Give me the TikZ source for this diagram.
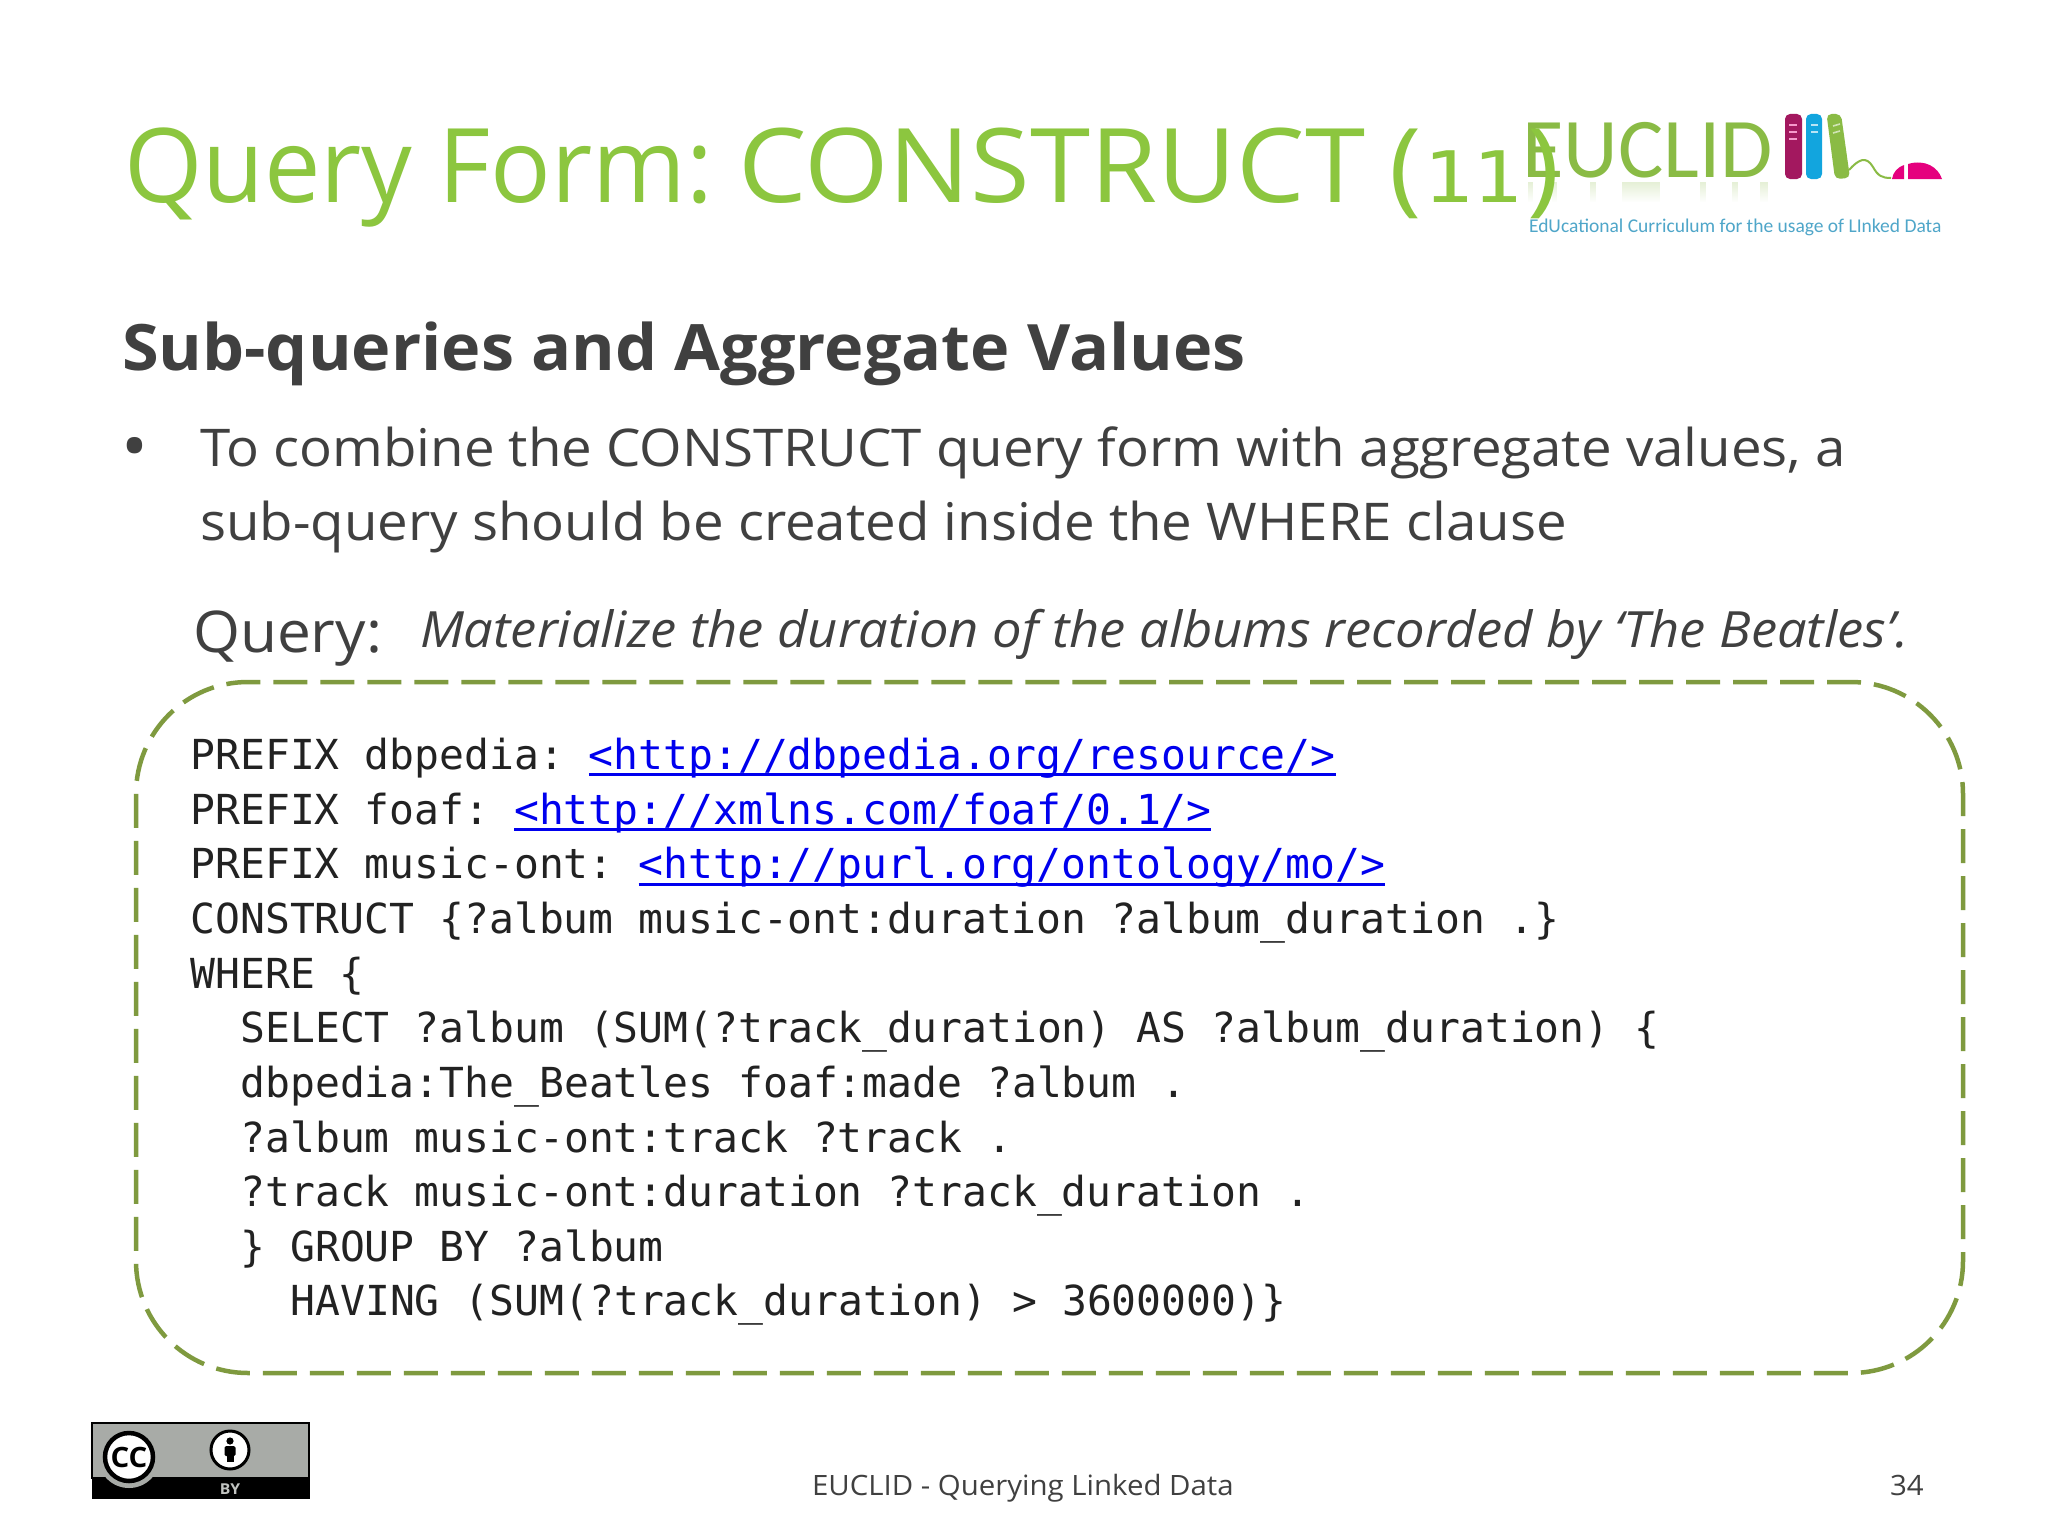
\documentclass[tikz,border=0pt]{standalone}
\usepackage{fontspec}
\setmainfont[FakeStretch=1.05]{Open Sans}
\newfontfamily\codefont{DejaVu Sans Mono}
\newfontfamily\titlefonta[FakeStretch=0.978]{Open Sans}
\newfontfamily\titlefontb[FakeStretch=1.054]{Open Sans}
\newfontfamily\titledigits[FakeStretch=1.16]{DejaVu Sans Mono}
\newfontfamily\headfont[FakeStretch=1.04]{Open Sans}
\newfontfamily\logofont{Carlito}
\usetikzlibrary{fadings}
\definecolor{titlegreen}{HTML}{8CC63F}
\definecolor{bodygray}{HTML}{404040}
\definecolor{boxgreen}{HTML}{7F9A3F}
\definecolor{codeink}{HTML}{222222}
\definecolor{linkblue}{HTML}{0000EE}
\definecolor{logogreen}{HTML}{8ABB45}
\definecolor{logomag}{HTML}{A3185F}
\definecolor{logoblue}{HTML}{12A5DE}
\definecolor{logopink}{HTML}{E5007E}
\definecolor{logotext}{HTML}{4FA6C9}
\definecolor{badgegray}{HTML}{A8ABA7}
\newsavebox{\linkbox}
\newcommand{\codelink}[1]{\sbox{\linkbox}{#1}{\color{linkblue}\rlap{\raisebox{-7pt}{\rule{\wd\linkbox}{3pt}}}#1}}
\frenchspacing
\tikzset{
  txt/.style={anchor=base west,inner sep=0pt,outer sep=0pt},
  titletxt/.style={txt,text=titlegreen,font=\fontsize{103}{103}\selectfont},
  headtxt/.style={txt,text=bodygray,font=\headfont\bfseries\fontsize{64}{64}\selectfont},
  bodytxt/.style={txt,text=bodygray,font=\fontsize{52}{52}\selectfont},
  codetxt/.style={txt,text=codeink,font=\codefont\fontsize{41.35}{41.35}\selectfont},
  foot/.style={txt,text=bodygray,font=\fontsize{28}{28}\selectfont},
  codebox/.style={draw=boxgreen,line width=4.5pt,rounded corners=112pt,dash pattern=on 34pt off 13pt},
  reflect/.style={path fading=south,opacity=.22},
}
\begin{document}
\begin{tikzpicture}[x=1pt,y=-1pt]
\useasboundingbox (0,0) rectangle (2048,1536);
\fill[white] (0,0) rectangle (2048,1536);

% logo
\node[txt,text=logogreen,font=\logofont\fontsize{85}{85}\selectfont] (logoword) at (1522,178) {EUCLID};
\foreach \xa/\xb in {1528/1533,1552/1557,1590/1596,1622/1660,1700/1706,1732/1738,1760/1768}
  \fill[logogreen,reflect] (\xa,182) rectangle (\xb,202);
\fill[logomag,rounded corners=5pt] (1785,114) rectangle (1802,179);
\fill[logoblue,rounded corners=5pt] (1806,114) rectangle (1822,179);
\fill[logogreen,rounded corners=5pt] (1826.5,114) -- (1841,114) -- (1850,178) -- (1835,179) -- cycle;
\foreach \yy in {125,132,139} \draw[white!60!logopink,line width=1.6pt] (1789,\yy) -- (1797,\yy);
\foreach \yy in {125,132} \draw[white!70!logoblue,line width=1.6pt] (1811,\yy) -- (1818,\yy);
\foreach \yy in {125,132} \draw[white!60!logogreen,line width=1.6pt] (1833,\yy+1) -- (1840,\yy-1);
\draw[logogreen,line width=2pt] (1849,170) .. controls (1858,160) and (1866,155) .. (1873,167) .. controls (1878,176) and (1882,178) .. (1891,178);
\fill[logopink] (1892,179) .. controls (1893,172) and (1898,167) .. (1904,165) -- (1904,179) -- cycle;
\fill[logopink] (1908,179) -- (1908,164) .. controls (1925,159) and (1938,167) .. (1942,179) -- cycle;
\node[txt,text=logotext,font=\logofont\fontsize{19.5}{19.5}\selectfont] (logosub) at (1529,232) {EdUcational Curriculum for the usage of LInked Data};

% title and body
\node[titletxt] (title) at (124,202) {\makebox[614pt][l]{\titlefonta Query Form:}\makebox[652pt][l]{\titlefontb CONSTRUCT}\makebox[33pt][l]{\titlefontb (}{\titledigits\fontsize{71}{71}\selectfont 11}\hspace{5pt}{\titlefontb )}};
\node[headtxt] (head) at (122,370) {Sub-queries and Aggregate Values};
\node[bodytxt,font=\fontsize{68}{68}\selectfont] (bullet) at (121,470.5) {•};
\node[bodytxt] (line1) at (200,466) {To combine the CONSTRUCT query form with aggregate values, a};
\node[bodytxt] (line2) at (200,540) {sub-query should be created inside the WHERE clause};
\node[bodytxt,font=\fontsize{57.5}{57.5}\selectfont] (querylabel) at (193,652) {Query:};
\node[bodytxt,font=\itshape\fontsize{50}{50}\selectfont] (querytext) at (420,647) {Materialize the duration of the albums recorded by ‘The Beatles’.};

% code box
\draw[codebox] (1010,682) -- (1963,682) -- (1963,1373) -- (136,1373) -- (136,682) -- cycle;

\node[codetxt] (c1) at (190.5,769) {PREFIX dbpedia: \codelink{<http://dbpedia.org/resource/>}};
\node[codetxt] (c2) at (190.5,824) {PREFIX foaf: \codelink{<http://xmlns.com/foaf/0.1/>}};
\node[codetxt] (c3) at (190.5,878.5) {PREFIX music-ont: \codelink{<http://purl.org/ontology/mo/>}};
\node[codetxt] (c4) at (190.5,933) {CONSTRUCT \{?album music-ont:duration ?album\_duration .\}};
\node[codetxt] (c5) at (190.5,988) {WHERE \{};
\node[codetxt] (c6) at (240.5,1042.5) {SELECT ?album (SUM(?track\_duration) AS ?album\_duration) \{};
\node[codetxt] (c7) at (240.5,1097) {dbpedia:The\_Beatles foaf:made ?album .};
\node[codetxt] (c8) at (240.5,1152) {?album music-ont:track ?track .};
\node[codetxt] (c9) at (240.5,1206.5) {?track music-ont:duration ?track\_duration .};
\node[codetxt] (c10) at (240.5,1261) {\} GROUP BY ?album};
\node[codetxt] (c11) at (290.5,1315.5) {HAVING (SUM(?track\_duration) > 3600000)\}};

% licence badge
\fill[badgegray,draw=black,line width=1.5pt] (92,1423) rectangle (309,1478);
\fill[black] (91.5,1477) rectangle (309.5,1499);
\fill[badgegray] (129,1457) circle (31);
\fill[white,draw=black,line width=4.5pt] (129,1457) circle (24);
\node[text=black,inner sep=0pt,font=\bfseries\fontsize{28}{28}\selectfont] (cc) at (129,1457) {CC};
\fill[white,draw=black,line width=3pt] (230,1450) circle (19);
\fill[black] (230,1441) circle (3.6);
\fill[black,rounded corners=1.5pt] (224.5,1446) rectangle (235.5,1456);
\fill[black] (226.5,1450) rectangle (233.5,1462);
\node[text=badgegray!70!white,inner sep=0pt,font=\bfseries\fontsize{15}{15}\selectfont] (by) at (230,1489) {BY};

% footer
\node[foot] (footer) at (812,1495) {EUCLID - Querying Linked Data};
\node[foot] (pageno) at (1890,1495) {34};
\end{tikzpicture}
\end{document}
